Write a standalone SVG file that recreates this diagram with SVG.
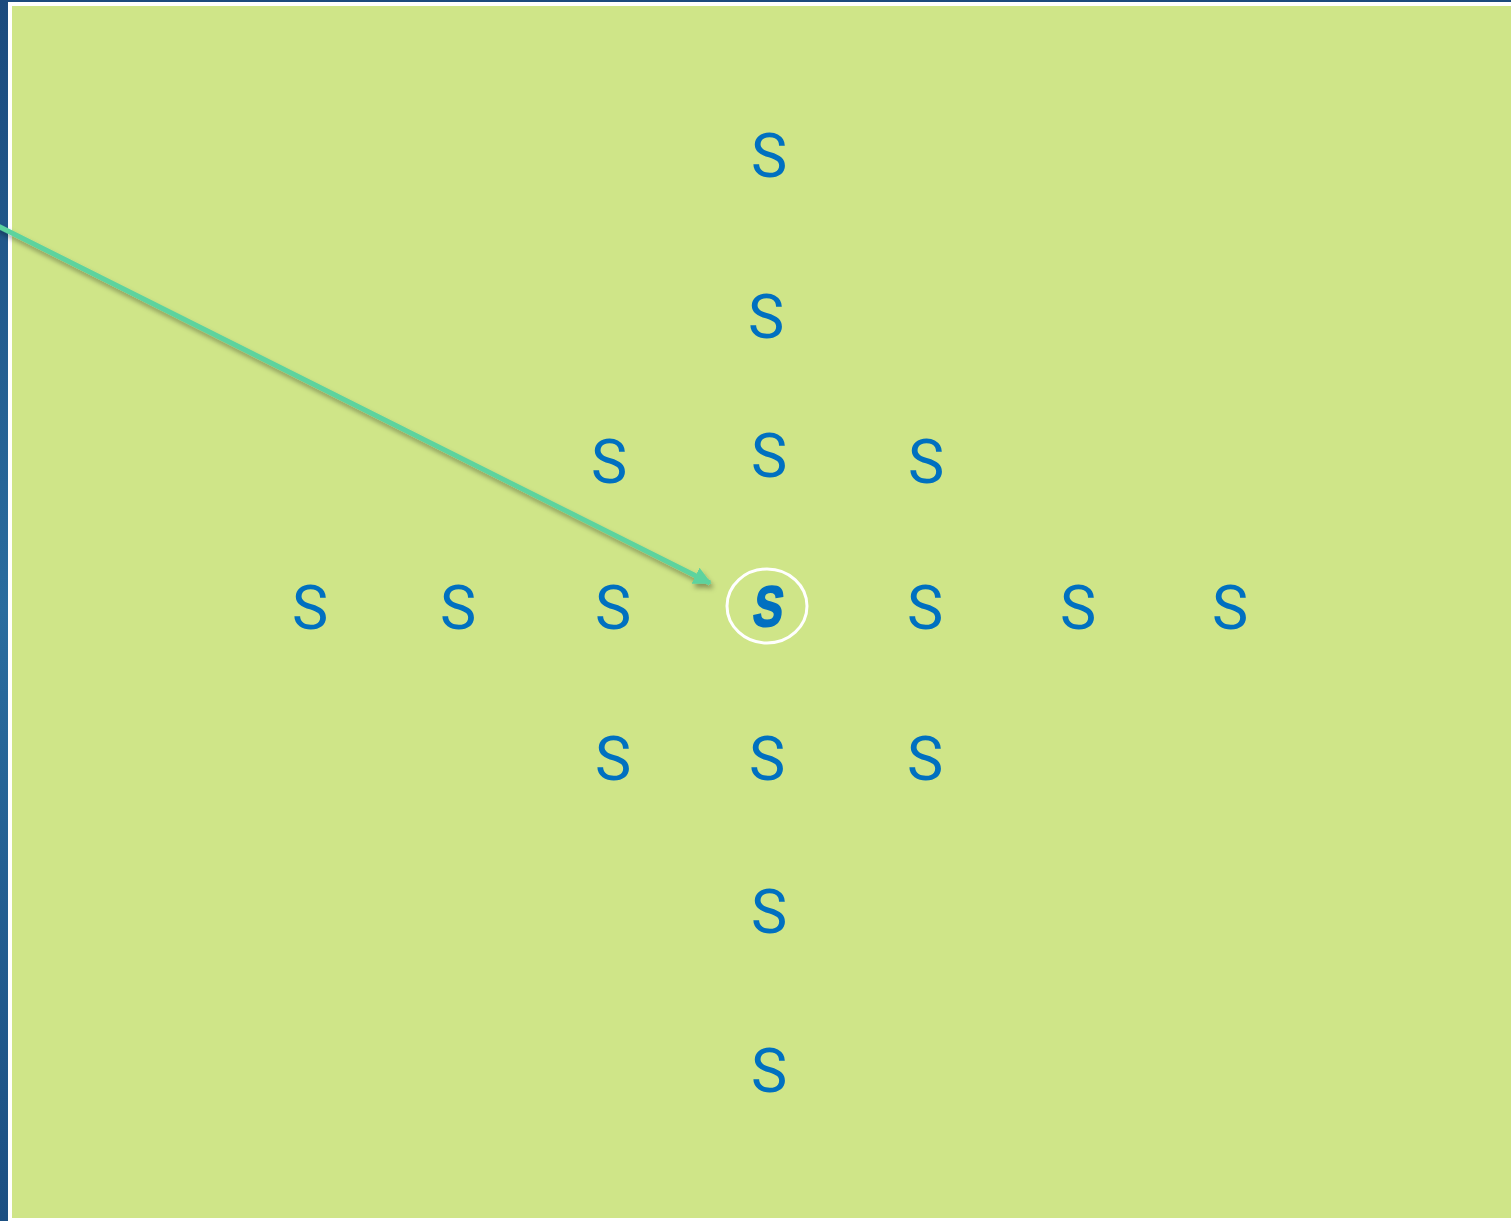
<svg xmlns="http://www.w3.org/2000/svg" width="1511" height="1221" viewBox="0 0 1511 1221">
<style>
.s{font-family:Roboto,"Liberation Sans",Arial,sans-serif;font-size:61px;fill:#0070c0;text-anchor:middle}
.sb{font-family:"Liberation Sans",Arial,sans-serif;font-size:57px;font-weight:bold;fill:#0070c0;stroke:#0070c0;stroke-width:2;text-anchor:middle}
.conn{stroke:#5dd39e;stroke-width:5;fill:none}
</style>
<defs>
<linearGradient id="bg" x1="0" y1="0" x2="0" y2="1">
<stop offset="0" stop-color="#1b4a7d"/>
<stop offset="0.5" stop-color="#2a6c9e"/>
<stop offset="1" stop-color="#1c4f82"/>
</linearGradient>
<marker id="ah" viewBox="0 0 10 10" refX="9" refY="5" markerWidth="3.6" markerHeight="3.6" orient="auto" markerUnits="strokeWidth">
<path d="M0,0 L10,5 L0,10 z" fill="#5dd39e"/>
</marker>
<filter id="sh" x="-10%" y="-10%" width="120%" height="130%">
<feDropShadow dx="2" dy="4" stdDeviation="2.5" flood-color="#000" flood-opacity="0.35"/>
</filter>
</defs>
<rect x="0" y="0" width="1511" height="1221" fill="url(#bg)"/>
<rect x="8" y="2" width="1503" height="1219" fill="#ffffff"/>
<rect x="12" y="6" width="1499" height="1212" fill="#cfe588"/>
<g id="connectors">
<line class="conn" x1="-4" y1="225" x2="710" y2="583" marker-end="url(#ah)" filter="url(#sh)"/>
</g>
<g id="n1"><text class="s" x="769" y="177">S</text></g>
<g id="n2"><text class="s" x="766" y="338">S</text></g>
<g id="n3"><text class="s" x="609" y="483">S</text></g>
<g id="n4"><text class="s" x="769" y="477">S</text></g>
<g id="n5"><text class="s" x="926" y="483">S</text></g>
<g id="n6"><text class="s" x="310" y="629">S</text></g>
<g id="n7"><text class="s" x="458" y="629">S</text></g>
<g id="n8"><text class="s" x="613" y="629">S</text></g>
<g id="center">
<ellipse cx="767" cy="606" rx="40" ry="37" fill="none" stroke="#ffffff" stroke-width="3"/>
<text class="sb" x="0" y="0" transform="translate(766,626) skewX(-8) scale(0.78,1)">S</text>
</g>
<g id="n9"><text class="s" x="925" y="629">S</text></g>
<g id="n10"><text class="s" x="1078" y="629">S</text></g>
<g id="n11"><text class="s" x="1230" y="629">S</text></g>
<g id="n12"><text class="s" x="613" y="780">S</text></g>
<g id="n13"><text class="s" x="767" y="780">S</text></g>
<g id="n14"><text class="s" x="925" y="780">S</text></g>
<g id="n15"><text class="s" x="769" y="933">S</text></g>
<g id="n16"><text class="s" x="769" y="1092">S</text></g>
</svg>
